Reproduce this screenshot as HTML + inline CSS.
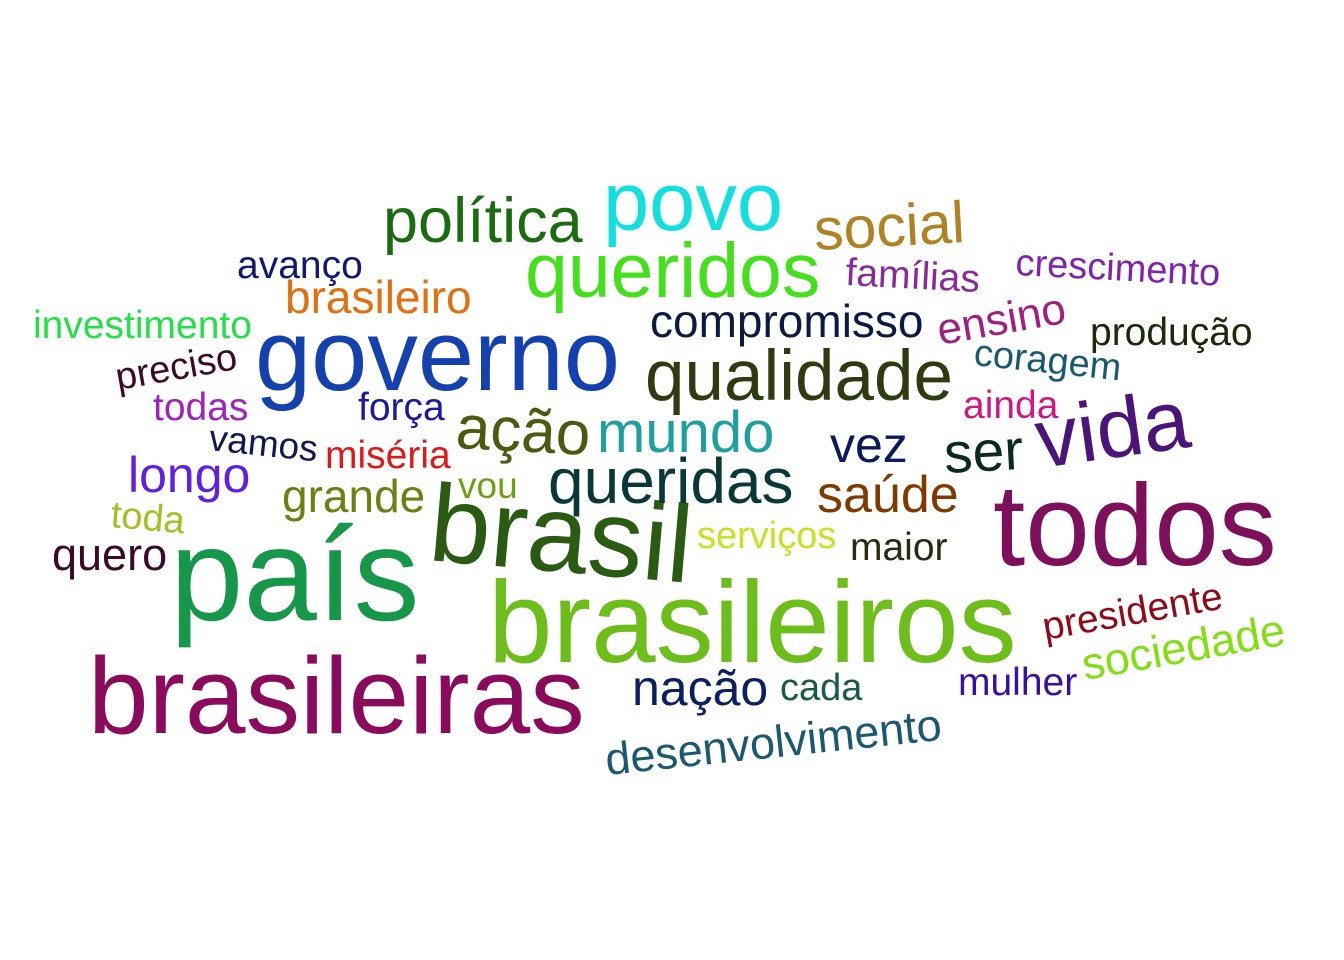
<!DOCTYPE html>
<html>
<head>
<meta charset="utf-8">
<style>
html,body{margin:0;padding:0;background:#fff;width:1344px;height:960px;overflow:hidden}
svg text{font-family:"Liberation Sans",Arial,sans-serif}
</style>
</head>
<body>
<svg id="cloud" width="1344" height="960" viewBox="0 0 1344 960" xmlns="http://www.w3.org/2000/svg">
<rect x="0" y="0" width="1344" height="960" fill="#ffffff"/>
</svg>
<script>
// data
const words = ["brasileiras","país","brasileiros","brasil","todos","governo","qualidade","queridos","povo","política","social","vida","mundo","queridas","ação","compromisso","brasileiro","avanço","investimento","preciso","todas","força","vamos","miséria","longo","grande","vou","toda","quero","serviços","maior","saúde","vez","ser","famílias","crescimento","ensino","produção","coragem","ainda","presidente","sociedade","mulher","nação","cada","desenvolvimento"];
const sizes = [109,132,116,110,116,101,71,77,83,63,59,84,58,64,62,46,46,39,39,38,39,39,37,39,50,46,37,38,45,38,39,52,50,57,39,38,44,39,38,39,39,45,39,50,38,45];
const colors = ["#8a0b5c","#17974a","#6dbd1b","#2b5a12","#7e0f5a","#1541ae","#2e3a0f","#44e01c","#12e0de","#1b6b10","#b08222","#4a1478","#1fa0a0","#0a3838","#4a5a10","#0b1a40","#e07010","#111a70","#22e046","#3a0a28","#a222c0","#1a1aa0","#101a50","#e01818","#6020e0","#6a8010","#70a012","#a2c224","#3a0a28","#c4e422","#2a2a10","#803a00","#0a1a5a","#0a2a1a","#8a2a9a","#8022b0","#a02080","#1a2a0a","#1a5a70","#d01880","#900a1a","#82e012","#3a10a0","#0a2060","#1a5a4a","#1a5a70"];
// layout (positions, not data)
const posX = [88,170,488,427,993,255,645,525,603,383,815,1040,597,548,455,650,285,237,33,118,153,358,208,325,128,282,458,110,52,697,850,817,830,945,845,1015,940,1090,973,963,1045,1085,958,632,780,607];
const posY = [733,620,662,560,565,390,400,297,230,242,250,468,452,503,448,337,313,278,338,390,420,420,450,468,492,512,498,527,570,548,560,512,462,473,285,275,345,345,365,418,640,680,695,705,700,775];
const rotDeg = [0,0,0,5,0,0,0,0,0,0,-3,-8,0,0,3,0,0,0,0,-10,0,0,6,0,0,0,0,5,0,0,0,0,0,-3,3,3,-10,0,6,0,-10,-10,0,0,0,-6];

const svg = document.getElementById('cloud');
const NS = "http://www.w3.org/2000/svg";
words.forEach((w, i) => {
  const t = document.createElementNS(NS, 'text');
  t.setAttribute('x', posX[i]);
  t.setAttribute('y', posY[i]);
  t.setAttribute('font-size', sizes[i]);
  t.setAttribute('fill', colors[i]);
  if (rotDeg[i]) t.setAttribute('transform', `rotate(${rotDeg[i]} ${posX[i]} ${posY[i]})`);
  t.textContent = w;
  
  
  svg.appendChild(t);
});
</script>
</body>
</html>
